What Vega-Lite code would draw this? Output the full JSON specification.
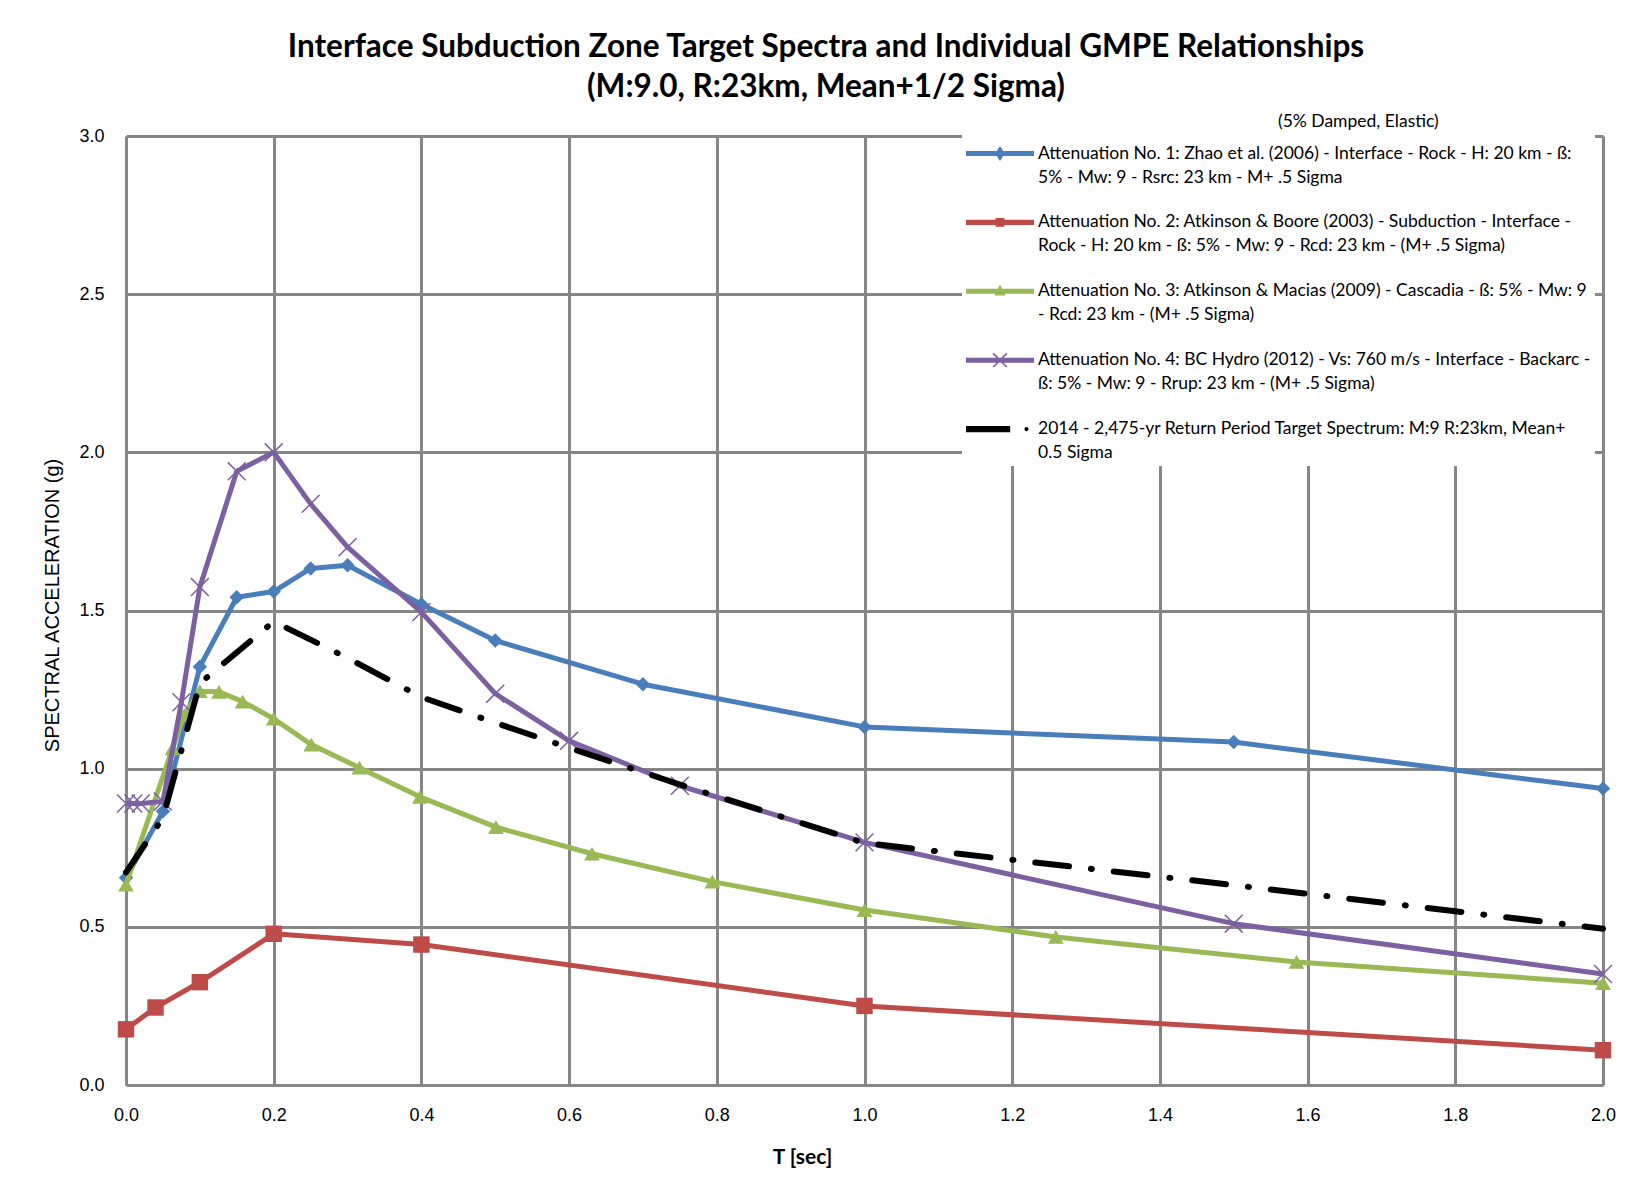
{
  "$schema": "https://vega.github.io/schema/vega-lite/v6.json",
  "width": 1477,
  "height": 949,
  "autosize": {"type": "none"},
  "padding": {"left": 126, "top": 136, "right": 34, "bottom": 108},
  "background": "white",
  "title": {
    "text": ["Interface Subduction Zone  Target Spectra and Individual GMPE Relationships", "(M:9.0, R:23km, Mean+1/2 Sigma)"],
    "font": "Lato",
    "fontWeight": "bold",
    "fontSize": 31.5,
    "lineHeight": 40,
    "color": "black",
    "anchor": "middle",
    "frame": "bounds",
    "offset": 10,
    "dy": 4,
    "dx": -14
  },
  "datasets": {
    "names": [
      {"no": 1, "series": "Attenuation No. 1: Zhao et al. (2006) - Interface - Rock - H: 20 km - ß:\n5% - Mw: 9 - Rsrc: 23 km - M+ .5 Sigma"},
      {"no": 2, "series": "Attenuation No. 2: Atkinson & Boore (2003) - Subduction - Interface -\nRock - H: 20 km - ß: 5% - Mw: 9 - Rcd: 23 km - (M+ .5 Sigma)"},
      {"no": 3, "series": "Attenuation No. 3: Atkinson & Macias (2009) - Cascadia - ß: 5% - Mw: 9\n- Rcd: 23 km - (M+ .5 Sigma)"},
      {"no": 4, "series": "Attenuation No. 4: BC Hydro (2012) - Vs: 760 m/s - Interface - Backarc -\nß: 5% - Mw: 9 - Rrup: 23 km - (M+ .5 Sigma)"},
      {"no": 5, "series": "2014 - 2,475-yr Return Period Target Spectrum: M:9 R:23km, Mean+\n0.5 Sigma"}
    ]
  },
  "data": {
    "values": [
      {"no": 1, "T": 0.0, "SA": 0.655},
      {"no": 1, "T": 0.05, "SA": 0.865},
      {"no": 1, "T": 0.1, "SA": 1.322},
      {"no": 1, "T": 0.15, "SA": 1.542},
      {"no": 1, "T": 0.2, "SA": 1.56},
      {"no": 1, "T": 0.25, "SA": 1.633},
      {"no": 1, "T": 0.3, "SA": 1.643},
      {"no": 1, "T": 0.4, "SA": 1.52},
      {"no": 1, "T": 0.5, "SA": 1.405},
      {"no": 1, "T": 0.7, "SA": 1.267},
      {"no": 1, "T": 1.0, "SA": 1.132},
      {"no": 1, "T": 1.5, "SA": 1.084},
      {"no": 1, "T": 2.0, "SA": 0.937},
      {"no": 2, "T": 0.0, "SA": 0.176},
      {"no": 2, "T": 0.04, "SA": 0.245},
      {"no": 2, "T": 0.1, "SA": 0.325},
      {"no": 2, "T": 0.2, "SA": 0.478},
      {"no": 2, "T": 0.4, "SA": 0.444},
      {"no": 2, "T": 1.0, "SA": 0.25},
      {"no": 2, "T": 2.0, "SA": 0.11},
      {"no": 3, "T": 0.0, "SA": 0.633},
      {"no": 3, "T": 0.063, "SA": 1.064},
      {"no": 3, "T": 0.079, "SA": 1.17},
      {"no": 3, "T": 0.1, "SA": 1.245},
      {"no": 3, "T": 0.126, "SA": 1.243},
      {"no": 3, "T": 0.158, "SA": 1.212},
      {"no": 3, "T": 0.2, "SA": 1.158},
      {"no": 3, "T": 0.251, "SA": 1.076},
      {"no": 3, "T": 0.316, "SA": 1.003},
      {"no": 3, "T": 0.398, "SA": 0.911},
      {"no": 3, "T": 0.501, "SA": 0.815},
      {"no": 3, "T": 0.631, "SA": 0.731},
      {"no": 3, "T": 0.794, "SA": 0.643},
      {"no": 3, "T": 1.0, "SA": 0.553},
      {"no": 3, "T": 1.259, "SA": 0.468},
      {"no": 3, "T": 1.585, "SA": 0.389},
      {"no": 3, "T": 2.0, "SA": 0.322},
      {"no": 4, "T": 0.0, "SA": 0.89},
      {"no": 4, "T": 0.01, "SA": 0.89},
      {"no": 4, "T": 0.02, "SA": 0.89},
      {"no": 4, "T": 0.05, "SA": 0.896},
      {"no": 4, "T": 0.075, "SA": 1.21},
      {"no": 4, "T": 0.1, "SA": 1.574},
      {"no": 4, "T": 0.15, "SA": 1.94},
      {"no": 4, "T": 0.2, "SA": 2.0},
      {"no": 4, "T": 0.25, "SA": 1.837},
      {"no": 4, "T": 0.3, "SA": 1.70},
      {"no": 4, "T": 0.4, "SA": 1.495},
      {"no": 4, "T": 0.5, "SA": 1.237},
      {"no": 4, "T": 0.6, "SA": 1.088},
      {"no": 4, "T": 0.75, "SA": 0.946},
      {"no": 4, "T": 1.0, "SA": 0.767},
      {"no": 4, "T": 1.5, "SA": 0.51},
      {"no": 4, "T": 2.0, "SA": 0.351},
      {"no": 5, "T": 0.0, "SA": 0.672},
      {"no": 5, "T": 0.05, "SA": 0.845},
      {"no": 5, "T": 0.1, "SA": 1.27},
      {"no": 5, "T": 0.2, "SA": 1.465},
      {"no": 5, "T": 0.3, "SA": 1.35},
      {"no": 5, "T": 0.4, "SA": 1.226},
      {"no": 5, "T": 0.5, "SA": 1.145},
      {"no": 5, "T": 0.6, "SA": 1.066},
      {"no": 5, "T": 0.75, "SA": 0.95},
      {"no": 5, "T": 1.0, "SA": 0.765},
      {"no": 5, "T": 1.5, "SA": 0.632},
      {"no": 5, "T": 2.0, "SA": 0.494}
    ]
  },
  "encoding": {
    "x": {
      "field": "T", "type": "quantitative",
      "scale": {"domain": [0, 2], "nice": false, "zero": false},
      "axis": {
        "title": "T [sec]",
        "values": [0, 0.2, 0.4, 0.6, 0.8, 1.0, 1.2, 1.4, 1.6, 1.8, 2.0],
        "format": ".1f",
        "labelPadding": 21,
        "titleFont": "Lato", "titleFontWeight": "bold", "titleFontSize": 21,
        "titlePadding": 22,
        "titleX": 676
      }
    },
    "y": {
      "field": "SA", "type": "quantitative",
      "scale": {"domain": [0, 3], "nice": false},
      "axis": {
        "title": "SPECTRAL ACCELERATION (g)",
        "values": [0, 0.5, 1.0, 1.5, 2.0, 2.5, 3.0],
        "format": ".1f",
        "labelPadding": 22,
        "titleFont": "Liberation Sans", "titleFontWeight": "normal", "titleFontSize": 20,
        "titlePadding": 16,
        "titleY": 469
      }
    }
  },
  "layer": [
    {"transform": [{"filter": "datum.no == 1"}], "mark": {"type": "line", "color": "#4A7EBB", "strokeWidth": 5, "strokeJoin": "round"}},
    {"transform": [{"filter": "datum.no == 1"}], "mark": {"type": "point", "shape": "diamond", "filled": true, "color": "#4A7EBB", "size": 210, "opacity": 1}},
    {"transform": [{"filter": "datum.no == 2"}], "mark": {"type": "line", "color": "#BE4B48", "strokeWidth": 5, "strokeJoin": "round"}},
    {"transform": [{"filter": "datum.no == 2"}], "mark": {"type": "point", "shape": "square", "filled": true, "color": "#BE4B48", "size": 270, "opacity": 1}},
    {"transform": [{"filter": "datum.no == 3"}], "mark": {"type": "line", "color": "#98B954", "strokeWidth": 5, "strokeJoin": "round"}},
    {"transform": [{"filter": "datum.no == 3"}], "mark": {"type": "point", "shape": "triangle-up", "filled": true, "color": "#98B954", "size": 250, "opacity": 1}},
    {"transform": [{"filter": "datum.no == 4"}], "mark": {"type": "line", "color": "#7D60A0", "strokeWidth": 5, "strokeJoin": "round"}},
    {"transform": [{"filter": "datum.no == 4"}], "mark": {"type": "point", "shape": "M-1,-1L1,1M1,-1L-1,1", "filled": false, "color": "#7D60A0", "strokeWidth": 1.5, "size": 320, "opacity": 1}},
    {"transform": [{"filter": "datum.no == 5"}], "mark": {"type": "line", "color": "black", "strokeWidth": 6, "strokeDash": [34, 22, 1, 22], "strokeCap": "round", "strokeJoin": "round"}},
    {
      "transform": [{"lookup": "no", "from": {"data": {"name": "names"}, "key": "no", "fields": ["series"]}}],
      "mark": {"type": "point", "filled": true, "opacity": 0, "size": 4624},
      "encoding": {
        "color": {
          "field": "series", "type": "nominal", "sort": {"field": "no", "op": "min"},
          "scale": {"range": ["#4A7EBB", "#BE4B48", "#98B954", "#7D60A0", "black"]},
          "legend": {
            "title": "(5% Damped, Elastic)", "orient": "none", "legendX": 836, "legendY": -27,
            "labelExpr": "split(datum.label, '\\n')"
          }
        },
        "shape": {
          "field": "series", "type": "nominal", "sort": {"field": "no", "op": "min"},
          "scale": {"range": [
            "M-1,-0.075H1V0.075H-1Z M0,-0.22L0.14,0L0,0.22L-0.14,0Z",
            "M-1,-0.075H1V0.075H-1Z M-0.13,-0.13H0.13V0.13H-0.13Z",
            "M-1,-0.075H1V0.075H-1Z M0,-0.2L0.16,0.12L-0.16,0.12Z",
            "M-1,-0.075H1V0.075H-1Z M-0.182,-0.218L0.218,0.182L0.182,0.218L-0.218,-0.182Z M0.218,-0.182L-0.182,0.218L-0.218,0.182L0.182,-0.218Z",
            "M-1,-0.09H0.3V0.09H-1Z M0.72,0A0.06,0.06 0 1 1 0.84,0A0.06,0.06 0 1 1 0.72,0Z"
          ]},
          "legend": {
            "title": "(5% Damped, Elastic)", "orient": "none", "legendX": 836, "legendY": -27,
            "labelExpr": "split(datum.label, '\\n')"
          }
        }
      }
    }
  ],
  "config": {
    "view": {"stroke": null},
    "font": "Lato",
    "axis": {
      "grid": true, "gridColor": "#868686", "gridWidth": 3, "gridOpacity": 1,
      "domain": false, "ticks": false, "tickSize": 0,
      "labelFont": "Liberation Sans", "labelFontSize": 18, "labelColor": "black",
      "labelFlush": false, "labelOverlap": false,
      "titleColor": "black"
    },
    "legend": {
      "direction": "vertical",
      "fillColor": "white",
      "padding": 4,
      "titleFont": "Lato", "titleFontSize": 17.5, "titleFontWeight": "normal", "titleColor": "black",
      "titleAnchor": "middle", "titleAlign": "left", "titlePadding": -11,
      "labelFont": "Lato", "labelFontSize": 17.5, "labelColor": "black",
      "labelLimit": 800, "labelOffset": 4,
      "symbolSize": 4624, "symbolStrokeWidth": 0, "symbolOpacity": 1,
      "rowPadding": 1.9
    },
    "style": {"guide-label": {"lineHeight": 24}}
  }
}
